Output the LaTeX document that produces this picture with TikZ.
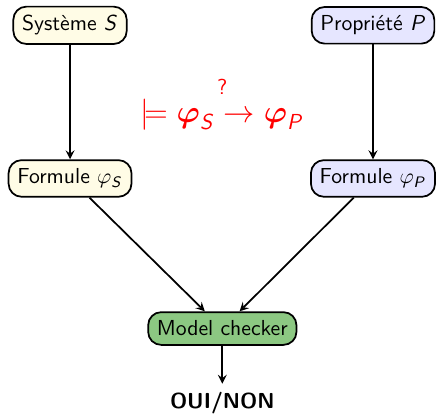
\documentclass[tikz,border=0pt]{standalone}
\usepackage{amsmath,amssymb}
\renewcommand{\familydefault}{\sfdefault}
\DeclareMathAlphabet{\mathsfit}{OT1}{cmss}{m}{sl}

\definecolor{creme}{RGB}{255,252,230}
\definecolor{lavd}{RGB}{230,230,255}
\definecolor{vertm}{RGB}{140,200,130}

\begin{document}
\begin{tikzpicture}[thick,>=stealth]
    \tikzset{
        boite/.style={draw,rounded corners=6pt,inner sep=4pt,minimum height=0.53cm}
    }
    \useasboundingbox (0,0) rectangle (7.06,6.71);
    %
    \node[boite,fill=creme] (sys) at (1.134,6.30) {Système $\mathsfit{S}$};
    \node[boite,fill=lavd] (prop) at (6.04,6.30) {Propriété $\mathsfit{P}$};
    \node[boite,fill=creme] (fs) at (1.134,3.82) {Formule $\varphi_{\mathsfit{S}}$};
    \node[boite,fill=lavd] (fp) at (6.04,3.82) {Formule $\varphi_{\mathsfit{P}}$};
    \node[boite,fill=vertm] (mc) at (3.60,1.39) {Model checker};
    \node (res) at (3.60,0.19) {\textbf{OUI/NON}};
    %
    \node[red,font=\Large,inner sep=1pt] (form) at (3.60,4.86)
        {$\models \boldsymbol{\varphi}_{\mathsfit{S}} \rightarrow \boldsymbol{\varphi}_{\mathsfit{P}}$};
    \node[red,inner sep=0pt] (quest) at (3.60,5.31) {?};
    %
    \draw[->] (sys) -- (fs);
    \draw[->] (prop) -- (fp);
    \draw[->] (fs) -- (mc);
    \draw[->] (fp) -- (mc);
    \draw[->] (mc) -- (res);
    %
\end{tikzpicture}
\end{document}
